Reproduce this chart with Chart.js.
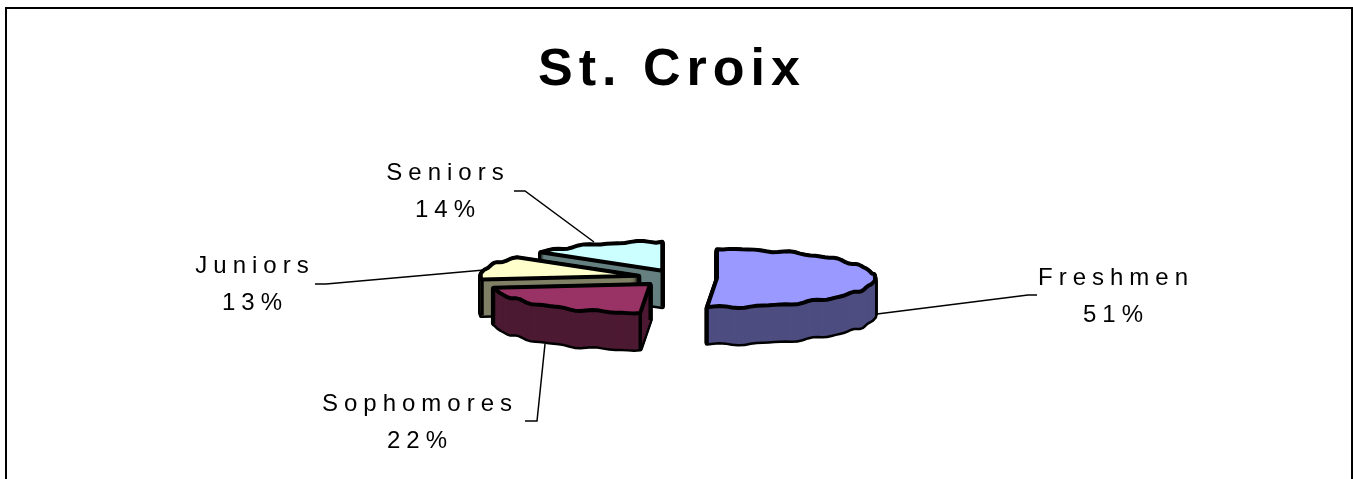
<!DOCTYPE html>
<html>
<head>
<meta charset="utf-8">
<title>St. Croix</title>
<script src="https://cdn.jsdelivr.net/npm/chart.js@4"></script>
<style>
    html, body { margin: 0; padding: 0; background: #fff; overflow: hidden; }
    canvas { display: block; }
</style>
</head>
<body>
<canvas id="graph" width="1353" height="479"></canvas>
<script>
// data
const categories = ['Freshmen', 'Sophomores', 'Juniors', 'Seniors'];
const percents = [51, 22, 13, 14];

// styles
const topColors = ['#9999FF', '#993366', '#FFFFCC', '#CCFFFF'];
const sideColors = ['#4D4D80', '#4D1A33', '#808066', '#668080'];
const sliceOffsets = [36, 45, 44, 44];
const drawOrder = [3, 2, 1, 0];
const fontName = '"Liberation Sans", Arial, sans-serif';

// flattened pie
const pieX = 681;
const pieY = 278;
const pieRadius = 158;
const tilt = 0.1835;
const depth = 36;

// label layout, same order as categories
const labelBoxes = [
    { x: 1113, y1: 285, y2: 322 },
    { x: 417, y1: 411, y2: 448 },
    { x: 252, y1: 273, y2: 310 },
    { x: 445, y1: 180, y2: 217 }
];
const leaders = [
    [[877, 314], [1028, 295], [1037, 295]],
    [[525, 421], [537, 421], [545, 344]],
    [[315, 284], [326, 284], [484, 270]],
    [[514, 191], [525, 191], [594, 242]]
];

// points of one wedge on screen, from the geometry of the arc element
const wedgePoints = (arc) => {
    const { startAngle, endAngle, outerRadius } = arc.getProps(['startAngle', 'endAngle', 'outerRadius'], true);
    const offset = arc.options.offset;
    const mid = (startAngle + endAngle) / 2;
    const ox = pieX + Math.cos(mid) * offset;
    const oy = pieY + Math.sin(mid) * offset * tilt;
    const rim = [];
    const steps = Math.ceil((endAngle - startAngle) / 0.04);
    for (let i = 0; i <= steps; i++) {
        const a = startAngle + (endAngle - startAngle) * i / steps;
        // the original rim is a rough polygon, not a clean ellipse
        const bump = (i === 0 || i === steps) ? 0 : 0.8 * Math.sin(a * 19) + 0.5 * Math.sin(a * 31 + 1);
        rim.push([ox + Math.cos(a) * outerRadius, oy + Math.sin(a) * outerRadius * tilt + bump]);
    }
    const frontStart = Math.sin(startAngle) > 0;
    const frontEnd = Math.sin(endAngle) > 0;
    return { apex: [ox, oy], rim, frontStart, frontEnd, wide: endAngle - startAngle > Math.PI };
};

const tracePath = (ctx, shape, dy) => {
    ctx.beginPath();
    ctx.moveTo(shape.apex[0], shape.apex[1] + dy);
    shape.rim.forEach(p => ctx.lineTo(p[0], p[1] + dy));
    ctx.closePath();
};

const drawSlice = (ctx, arc, index) => {
    const shape = wedgePoints(arc);
    ctx.lineJoin = 'round';
    ctx.lineWidth = 5;
    ctx.strokeStyle = '#000';

    // outline of the block, then the walls over it
    for (let d = depth; d > 0; d--) {
        tracePath(ctx, shape, d);
        ctx.stroke();
    }
    ctx.fillStyle = sideColors[index];
    for (let d = depth; d > 0; d--) {
        tracePath(ctx, shape, d);
        ctx.fill();
    }

    // upright edges on the visible side only
    const corners = [];
    if (shape.frontStart) corners.push(shape.rim[0]);
    if (shape.frontEnd) corners.push(shape.rim[shape.rim.length - 1]);
    if (!shape.wide) corners.push(shape.apex);
    ctx.lineWidth = 3.5;
    corners.forEach(p => {
        ctx.beginPath();
        ctx.moveTo(p[0], p[1]);
        ctx.lineTo(p[0], p[1] + depth);
        ctx.stroke();
    });

    // top face
    tracePath(ctx, shape, 0);
    ctx.fillStyle = topColors[index];
    ctx.fill();
    ctx.lineWidth = 4;
    ctx.stroke();
};

const pie3d = {
    id: 'pie3d',
    beforeDraw: (chart) => {
        const ctx = chart.ctx;
        ctx.save();
        ctx.fillStyle = '#fff';
        ctx.fillRect(0, 0, chart.width, chart.height);
        ctx.strokeStyle = '#000';
        ctx.lineWidth = 2;
        ctx.strokeRect(6, 8, 1346, 520);
        ctx.restore();
        // title spacing
        ctx.letterSpacing = '6px';
    },
    beforeDatasetDraw: (chart, args) => {
        const ctx = chart.ctx;
        ctx.save();
        ctx.letterSpacing = '0px';
        drawOrder.forEach(i => drawSlice(ctx, args.meta.data[i], i));
        ctx.restore();
        return false;
    },
    afterDraw: (chart) => {
        const ctx = chart.ctx;
        ctx.save();
        ctx.strokeStyle = '#000';
        ctx.lineWidth = 1.5;
        leaders.forEach(line => {
            ctx.beginPath();
            line.forEach((p, i) => i === 0 ? ctx.moveTo(p[0], p[1]) : ctx.lineTo(p[0], p[1]));
            ctx.stroke();
        });
        ctx.fillStyle = '#000';
        ctx.font = '24px ' + fontName;
        ctx.letterSpacing = '6px';
        ctx.textAlign = 'center';
        categories.forEach((name, i) => {
            const box = labelBoxes[i];
            ctx.fillText(name, box.x + 3, box.y1);
            ctx.fillText(percents[i] + '%', box.x + 3, box.y2);
        });
        ctx.restore();
    }
};

new Chart(document.getElementById('graph'), {
    type: 'pie',
    data: {
        labels: categories,
        datasets: [{
            data: percents,
            backgroundColor: topColors,
            offset: sliceOffsets,
            borderWidth: 0
        }]
    },
    options: {
        responsive: false,
        animation: false,
        radius: pieRadius,
        layout: { padding: { right: 9 } },
        plugins: {
            legend: { display: false },
            tooltip: { enabled: false },
            title: {
                display: true,
                text: 'St. Croix',
                color: '#000',
                font: { family: fontName, size: 52, weight: 'bold' },
                padding: { top: 39, bottom: 10 }
            }
        }
    },
    plugins: [pie3d]
});
</script>
</body>
</html>
